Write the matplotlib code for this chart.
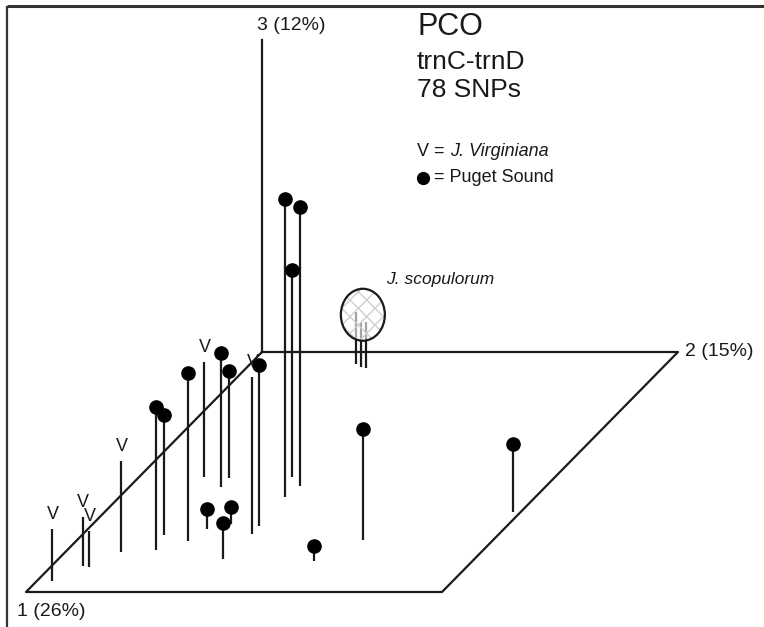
import matplotlib
matplotlib.use("Agg")
import numpy as np
import matplotlib.pyplot as plt
from matplotlib.patches import Ellipse

plt.rcParams["font.family"] = ["Liberation Sans", "DejaVu Sans"]

# PCO scores, scaled so that each drawn axis runs 0..1
# J. virginiana (drawn as "V")
virg_pc1 = [0.954, 0.892, 0.896, 0.833, 0.521, 0.758]
virg_pc2 = [0.037, 0.075, 0.092, 0.134, 0.156, 0.406]
virg_pc3 = [0.167, 0.157, 0.115, 0.292, 0.369, 0.503]

# Puget Sound (drawn as dots)
puget_pc1 = [0.825, 0.763, 0.788, 0.563, 0.525, 0.725, 0.738, 0.717,
             0.863, 0.604, 0.558, 0.521, 0.783, 0.871, 0.667]
puget_pc2 = [0.213, 0.197, 0.269, 0.221, 0.219, 0.404, 0.286, 0.332,
             0.396, 0.398, 0.408, 0.368, 0.687, 0.619, 0.981]
puget_pc3 = [0.458, 0.385, 0.538, 0.429, 0.343, 0.516, 0.064, 0.054,
             0.115, 0.955, 0.894, 0.663, 0.356, 0.048, 0.218]

# J. scopulorum cluster (circled)
scop_pc1 = [0.050, 0.063, 0.067]
scop_pc2 = [0.254, 0.273, 0.288]
scop_pc3 = [0.167, 0.144, 0.147]

axis_labels = ["1 (26%)", "2 (15%)", "3 (12%)"]
title_lines = ["PCO", "trnC-trnD", "78 SNPs"]

# oblique projection of the 3 axes onto the page (pixel units)
ORIGIN = np.array([262.0, 352.0])
E1 = np.array([-236.0, 240.0])
E2 = np.array([416.0, 0.0])
E3 = np.array([0.0, -312.0])

INK = "#1a1a1a"
LW = 1.6


def project(p1, p2, p3):
    p1, p2, p3 = (np.asarray(v, float) for v in (p1, p2, p3))
    x = ORIGIN[0] + p1 * E1[0] + p2 * E2[0] + p3 * E3[0]
    y = ORIGIN[1] + p1 * E1[1] + p2 * E2[1] + p3 * E3[1]
    return x, y


def stems(ax, pc1, pc2, pc3, **kw):
    bx, by = project(pc1, pc2, np.zeros(len(pc1)))
    tx, ty = project(pc1, pc2, pc3)
    ax.vlines(bx, by, ty, colors=INK, lw=LW, **kw)
    return tx, ty


fig = plt.figure(figsize=(7.64, 6.27), dpi=100)
ax = fig.add_axes([0, 0, 1, 1])
ax.set_xlim(0, 764)
ax.set_ylim(627, 0)
ax.axis("off")

# frame (top and left only)
ax.plot([7, 764], [5.5, 5.5], color="#333333", lw=2.2, solid_capstyle="butt")
ax.plot([7, 7], [5.5, 627], color="#333333", lw=1.6, solid_capstyle="butt")

# floor parallelogram and axis 3
cx, cy = project([0, 1, 1, 0, 0], [0, 0, 1, 1, 0], [0, 0, 0, 0, 0])
ax.plot(cx, cy, color=INK, lw=LW)
zx, zy = project([0, 0], [0, 0], [0, 1])
ax.plot(zx, zy, color=INK, lw=LW)

a1x, a1y = project(1, 0, 0)
a2x, a2y = project(0, 1, 0)
a3x, a3y = project(0, 0, 1)
ax.text(a1x - 9, a1y + 19, axis_labels[0], fontsize=14, va="center", ha="left", color=INK)
ax.text(a2x + 7, a2y, axis_labels[1], fontsize=14, va="center", ha="left", color=INK)
ax.text(a3x - 5, a3y - 14, axis_labels[2], fontsize=14, va="center", ha="left", color=INK)

# J. virginiana
vx, vy = stems(ax, virg_pc1, virg_pc2, virg_pc3, zorder=2)
for x, y in zip(vx, vy):
    ax.annotate("V", (x, y), xytext=(0.5, 10.5), textcoords="offset points",
                ha="center", va="center", fontsize=13, color=INK)

# Puget Sound
px, py = stems(ax, puget_pc1, puget_pc2, puget_pc3, zorder=2)
ax.plot(px, py, "o", color="black", ms=9.5, zorder=3)

# J. scopulorum
sx, sy = stems(ax, scop_pc1, scop_pc2, scop_pc3, zorder=2)
ecx, ecy = np.mean(sx) + 2, np.mean(sy) - 4
ax.add_patch(Ellipse((ecx, ecy), 44, 52, facecolor="white", alpha=0.6,
                     edgecolor="none", zorder=3))
ax.add_patch(Ellipse((ecx, ecy), 44, 52, facecolor="none", edgecolor="#cfcfcf",
                     lw=0, hatch="xx", zorder=3))
ax.add_patch(Ellipse((ecx, ecy), 44, 52, facecolor="none", edgecolor=INK,
                     lw=LW, zorder=4))
ax.text(ecx + 23, ecy - 35, "J. scopulorum", fontsize=12.5, style="italic",
        va="center", ha="left", color=INK)

# title block
ax.text(417, 27, title_lines[0], fontsize=22, va="center", ha="left", color=INK)
ax.text(417, 62, title_lines[1], fontsize=19, va="center", ha="left", color=INK)
ax.text(417, 90, title_lines[2], fontsize=19, va="center", ha="left", color=INK)

# legend
t1 = ax.text(417, 152, "V =", fontsize=13, va="center", ha="left", color=INK)
ax.annotate("J. Virginiana", xy=(1, 0.5), xycoords=t1, xytext=(4, 0),
            textcoords="offset points", va="center", ha="left",
            fontsize=13, style="italic", color=INK)
ax.plot(423, 178, "o", color="black", ms=8.5, zorder=3)
ax.text(434, 178, "= Puget Sound", fontsize=13, va="center", ha="left", color=INK)

fig.savefig("out.png", dpi=100)
